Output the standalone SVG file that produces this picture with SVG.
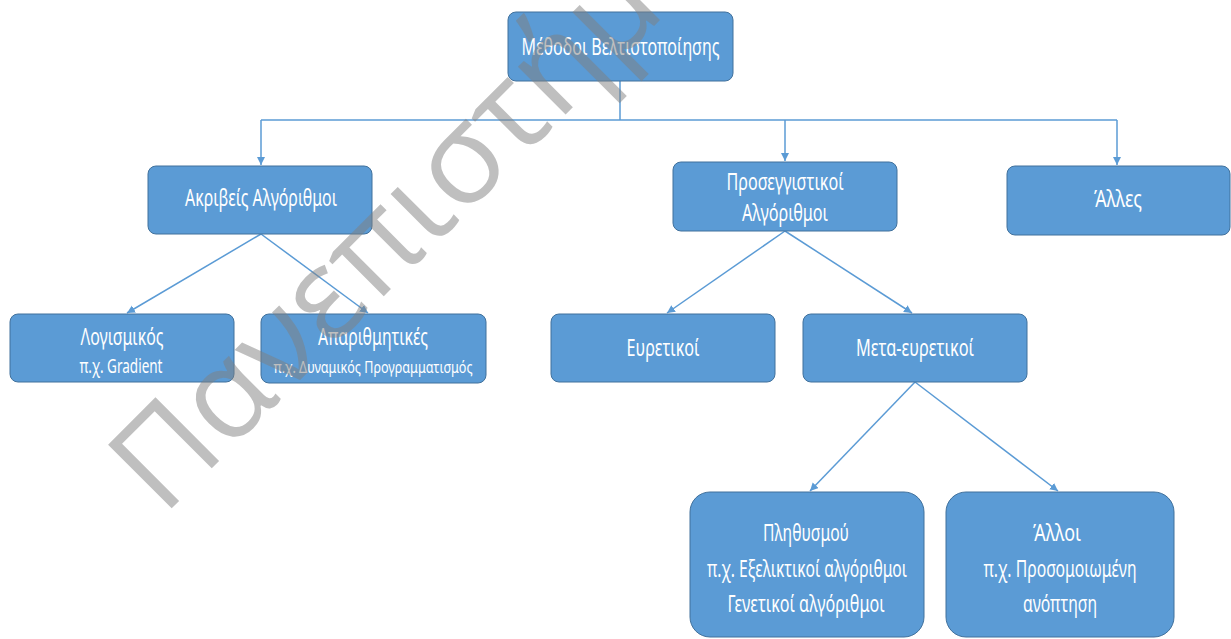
<svg xmlns="http://www.w3.org/2000/svg" width="1231" height="639" viewBox="0 0 1231 639">
<defs>
<marker id="arr" markerWidth="10" markerHeight="10" refX="8" refY="4" orient="auto" markerUnits="userSpaceOnUse">
<path d="M0,0 L8,4 L0,8 Z" fill="#5b9bd5"/>
</marker>
</defs>
<style>
.box{fill:#5b9bd5;stroke:#41719c;stroke-width:1}
.t{font-family:"Noto Sans","DejaVu Sans",sans-serif;fill:#ffffff;text-anchor:middle;font-size:23px}
.s{font-size:19px}
.xs{font-size:16px}
.c{fill:none;stroke:#5b9bd5;stroke-width:1.5}
.wm{font-family:"Open Sans","Noto Sans",sans-serif;font-weight:400;font-size:126px;fill:#808080;fill-opacity:0.5}
</style>
<rect width="1231" height="639" fill="#ffffff"/>
<g id="connectors">
<path class="c" d="M620,81 V120"/>
<path class="c" d="M261,120 H1117"/>
<path class="c" d="M261,120 V165" marker-end="url(#arr)"/>
<path class="c" d="M785,120 V161" marker-end="url(#arr)"/>
<path class="c" d="M1117,120 V165" marker-end="url(#arr)"/>
<path class="c" d="M261,234 L127,313" marker-end="url(#arr)"/>
<path class="c" d="M261,234 L368,313" marker-end="url(#arr)"/>
<path class="c" d="M785,231 L667,313" marker-end="url(#arr)"/>
<path class="c" d="M785,231 L912,313" marker-end="url(#arr)"/>
<path class="c" d="M915,382 L810,491" marker-end="url(#arr)"/>
<path class="c" d="M915,382 L1058,491" marker-end="url(#arr)"/>
</g>
<g id="n-methods">
<rect class="box" x="508" y="12" width="225" height="69" rx="8"/>
<text class="t" x="620.5" y="55" textLength="198" lengthAdjust="spacingAndGlyphs">Μέθοδοι Βελτιστοποίησης</text>
</g>
<g id="n-exact">
<rect class="box" x="148" y="166" width="224" height="68" rx="8"/>
<text class="t" x="261" y="206" textLength="152" lengthAdjust="spacingAndGlyphs">Ακριβείς Αλγόριθμοι</text>
</g>
<g id="n-approx">
<rect class="box" x="673" y="162" width="224" height="69" rx="8"/>
<text class="t" x="785" y="190" textLength="117" lengthAdjust="spacingAndGlyphs">Προσεγγιστικοί</text>
<text class="t" x="785" y="221" textLength="86" lengthAdjust="spacingAndGlyphs">Αλγόριθμοι</text>
</g>
<g id="n-other">
<rect class="box" x="1007" y="166" width="223" height="69" rx="8"/>
<text class="t" x="1118" y="207" textLength="48" lengthAdjust="spacingAndGlyphs">Άλλες</text>
</g>
<g id="n-calculus">
<rect class="box" x="10" y="314" width="224" height="68" rx="8"/>
<text class="t" x="122" y="345" textLength="83" lengthAdjust="spacingAndGlyphs">Λογισμικός</text>
<text class="t s" x="121" y="373" textLength="83" lengthAdjust="spacingAndGlyphs">π.χ. Gradient</text>
</g>
<g id="n-enum">
<rect class="box" x="261" y="314" width="225" height="69" rx="8"/>
<text class="t" x="373" y="345" textLength="110" lengthAdjust="spacingAndGlyphs">Απαριθμητικές</text>
<text class="t xs" x="373" y="373" textLength="199" lengthAdjust="spacingAndGlyphs">π.χ. Δυναμικός Προγραμματισμός</text>
</g>
<g id="n-heur">
<rect class="box" x="551" y="314" width="224" height="68" rx="8"/>
<text class="t" x="663" y="356" textLength="73" lengthAdjust="spacingAndGlyphs">Ευρετικοί</text>
</g>
<g id="n-meta">
<rect class="box" x="803" y="314" width="224" height="68" rx="8"/>
<text class="t" x="915" y="356" textLength="118" lengthAdjust="spacingAndGlyphs">Μετα-ευρετικοί</text>
</g>
<g id="n-pop">
<rect class="box" x="690" y="492" width="234" height="145" rx="20"/>
<text class="t" x="806" y="541" textLength="86" lengthAdjust="spacingAndGlyphs">Πληθυσμού</text>
<text class="t" x="807" y="577" textLength="200" lengthAdjust="spacingAndGlyphs">π.χ. Εξελικτικοί αλγόριθμοι</text>
<text class="t" x="806" y="612" textLength="157" lengthAdjust="spacingAndGlyphs">Γενετικοί αλγόριθμοι</text>
</g>
<g id="n-others">
<rect class="box" x="946" y="492" width="228" height="145" rx="20"/>
<text class="t" x="1057" y="541" textLength="48" lengthAdjust="spacingAndGlyphs">Άλλοι</text>
<text class="t" x="1060" y="577" textLength="153" lengthAdjust="spacingAndGlyphs">π.χ. Προσομοιωμένη</text>
<text class="t" x="1060" y="612" textLength="74" lengthAdjust="spacingAndGlyphs">ανόπτηση</text>
</g>
<text class="wm" x="163" y="517" transform="rotate(-45 163 517)">Πανεπιστήμιο</text>
</svg>
